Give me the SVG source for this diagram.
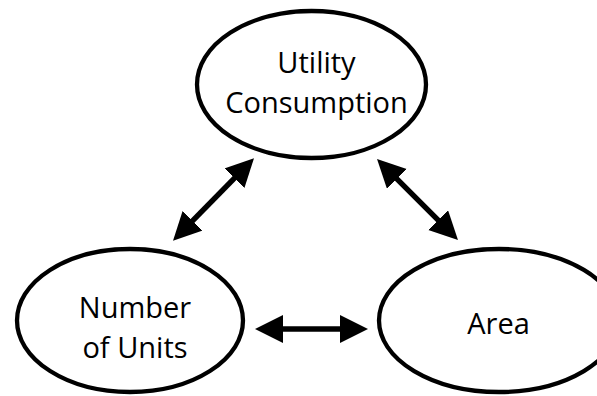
<svg xmlns="http://www.w3.org/2000/svg" width="597" height="396" viewBox="0 0 597 396">
  <style>
    .node { fill: #ffffff; stroke: #000000; stroke-width: 4.3; }
    .label { font-family: "Open Sans", "Liberation Sans", sans-serif; font-size: 29px; fill: #000000; text-anchor: middle; }
    .link { stroke: #000000; stroke-width: 5.5; fill: none; marker-start: url(#head); marker-end: url(#head); }
  </style>
  <defs>
    <!-- solid triangular head; the line stops 10px short of the tip -->
    <marker id="head" markerUnits="userSpaceOnUse" markerWidth="30" markerHeight="30" refX="18" refY="14" orient="auto-start-reverse">
      <path d="M0,0 L28,14 L0,28 Z" fill="#000000"/>
    </marker>
  </defs>
  <rect width="597" height="396" fill="#ffffff"/>

  <g id="utility-consumption">
    <ellipse class="node" cx="311.5" cy="84.5" rx="114.5" ry="73.5"/>
    <text class="label" x="316.5" y="73">Utility</text>
    <text class="label" x="316.5" y="113">Consumption</text>
  </g>

  <g id="number-of-units">
    <ellipse class="node" cx="130" cy="320.5" rx="113" ry="71.5"/>
    <text class="label" x="135" y="318">Number</text>
    <text class="label" x="135" y="358">of Units</text>
  </g>

  <g id="area">
    <ellipse class="node" cx="499" cy="320.5" rx="120" ry="71.5"/>
    <text class="label" x="498.5" y="334">Area</text>
  </g>

  <g id="connectors">
    <line class="link" x1="180" y1="233.7" x2="247" y2="165.3"/>
    <line class="link" x1="384.1" y1="166.1" x2="450.9" y2="232.9"/>
    <line class="link" x1="265" y1="329" x2="358" y2="329"/>
  </g>
</svg>
